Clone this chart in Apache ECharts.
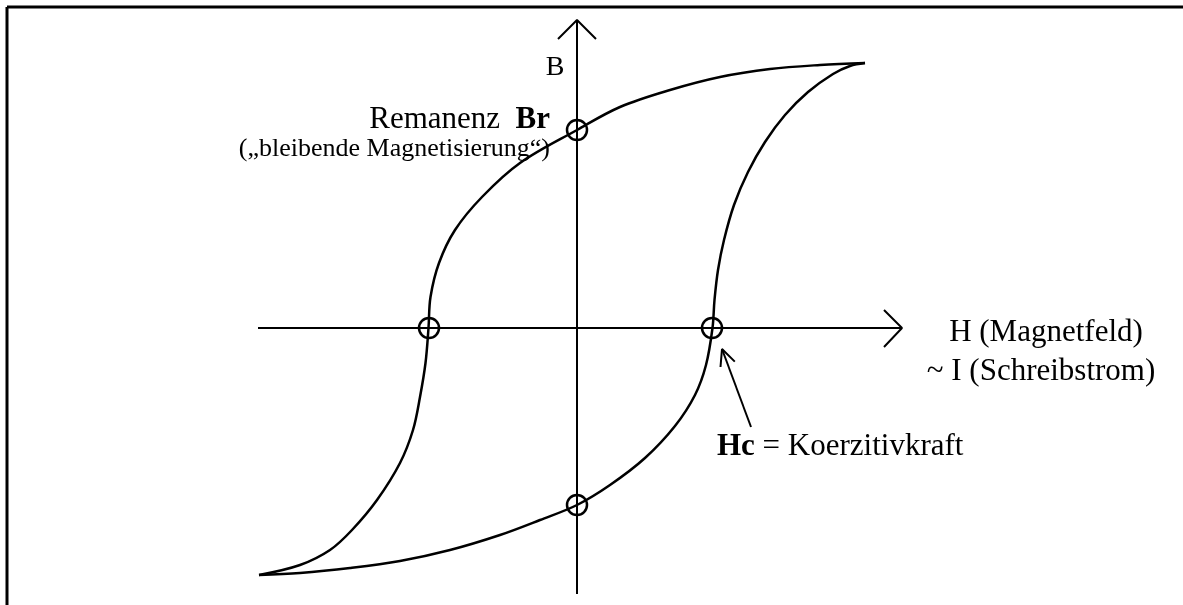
<!DOCTYPE html>
<html>
<head>
<meta charset="utf-8">
<script src="https://cdn.jsdelivr.net/npm/echarts@6/dist/echarts.min.js"></script>
<style>
  html, body { margin: 0; padding: 0; background: #fff; }
  #chart { width: 1183px; height: 605px; }
</style>
</head>
<body>
<div id="chart"></div>
<script>
// Hysterese-Schleife, H nach rechts, B nach oben (Ursprung = Achsenkreuz)
const upperBranch = [
  [-318, -247], [-277, -237], [-247, -222], [-225, -202], [-200, -172],
  [-177, -135], [-164, -102], [-157, -69], [-151.5, -35], [-148.5, 0],
  [-146.5, 31], [-138, 65], [-122, 98], [-95, 131], [-57, 165], [0, 198],
  [43, 221], [93, 238], [143, 251], [193, 259], [243, 263], [288, 265]
];
const lowerBranch = [
  [-318, -247], [-277, -245], [-227, -240], [-177, -233], [-127, -222],
  [-77, -207], [-37, -192], [0, -177], [33, -157], [68, -130], [98, -98],
  [118, -67], [129, -37], [135.5, 0], [137.5, 28], [141, 58],
  [147, 88], [157, 123], [171, 156], [188, 186], [208, 213], [231, 236],
  [256, 254], [273, 262], [288, 265]
];
// markierte Punkte: -Hc, +Hc, +Br, -Br
const markedPoints = [[-148, 0], [135, 0], [0, 198], [0, -177]];

// Achsen und Pfeile
const hAxisLine = [[-319, 0], [325, 0]];
const hAxisArrow = [[307, 18], [325, 0], [307, -19]];
const bAxisLine = [[0, -266], [0, 308]];
const bAxisArrow = [[-19, 289], [0, 308], [19, 289]];
const hcPointer = [[174, -99], [145, -21]];
const hcPointerHead = [[143.5, -39], [145, -21], [157.8, -33.6]];

const font = 'Liberation Serif, Times New Roman, serif';

const lineSeries = (data, smooth, width) => ({
  type: 'line',
  data: data,
  smooth: smooth,
  symbol: 'none',
  silent: true,
  lineStyle: { color: '#000', width: width }
});

const chart = echarts.init(document.getElementById('chart'));
chart.setOption({
  animation: false,
  grid: { left: 0, right: 0, top: 0, bottom: 0 },
  xAxis: { type: 'value', min: -577, max: 606, show: false },
  yAxis: { type: 'value', min: -277, max: 328, show: false },
  series: [
    lineSeries(hAxisLine, false, 2),
    lineSeries(hAxisArrow, false, 2),
    lineSeries(bAxisLine, false, 2),
    lineSeries(bAxisArrow, false, 2),
    lineSeries(upperBranch, 0.35, 2.5),
    lineSeries(lowerBranch, 0.35, 2.5),
    lineSeries(hcPointer, false, 2),
    lineSeries(hcPointerHead, false, 2),
    {
      type: 'scatter',
      data: markedPoints,
      symbol: 'circle',
      symbolSize: 20,
      silent: true,
      z: 5,
      itemStyle: { color: 'rgba(0,0,0,0)', borderColor: '#000', borderWidth: 2.5, opacity: 1 }
    }
  ],
  graphic: [
    // Rahmen oben und links
    { type: 'line', shape: { x1: 7, y1: 7, x2: 1183, y2: 7 }, style: { stroke: '#000', lineWidth: 3 } },
    { type: 'line', shape: { x1: 7, y1: 7, x2: 7, y2: 605 }, style: { stroke: '#000', lineWidth: 3 } },
    {
      type: 'text', x: 555, y: 68,
      style: { text: 'B', font: '28px ' + font, fill: '#000', align: 'center', verticalAlign: 'middle' }
    },
    {
      type: 'text', x: 550, y: 120,
      style: {
        text: 'Remanenz  {b|Br}', font: '31px ' + font, fill: '#000',
        align: 'right', verticalAlign: 'middle',
        rich: { b: { fontFamily: font, fontSize: 31, fontWeight: 'bold', fill: '#000' } }
      }
    },
    {
      type: 'text', x: 550, y: 149,
      style: { text: '(\u201Ebleibende Magnetisierung\u201C)', font: '26px ' + font, fill: '#000', align: 'right', verticalAlign: 'middle' }
    },
    {
      type: 'text', x: 1046, y: 333,
      style: { text: 'H (Magnetfeld)', font: '31px ' + font, fill: '#000', align: 'center', verticalAlign: 'middle' }
    },
    {
      type: 'text', x: 1041, y: 372,
      style: { text: '~ I (Schreibstrom)', font: '31px ' + font, fill: '#000', align: 'center', verticalAlign: 'middle' }
    },
    {
      type: 'text', x: 717, y: 447,
      style: {
        text: '{b|Hc} = Koerzitivkraft', font: '31px ' + font, fill: '#000',
        align: 'left', verticalAlign: 'middle',
        rich: { b: { fontFamily: font, fontSize: 31, fontWeight: 'bold', fill: '#000' } }
      }
    }
  ]
});
</script>
</body>
</html>
